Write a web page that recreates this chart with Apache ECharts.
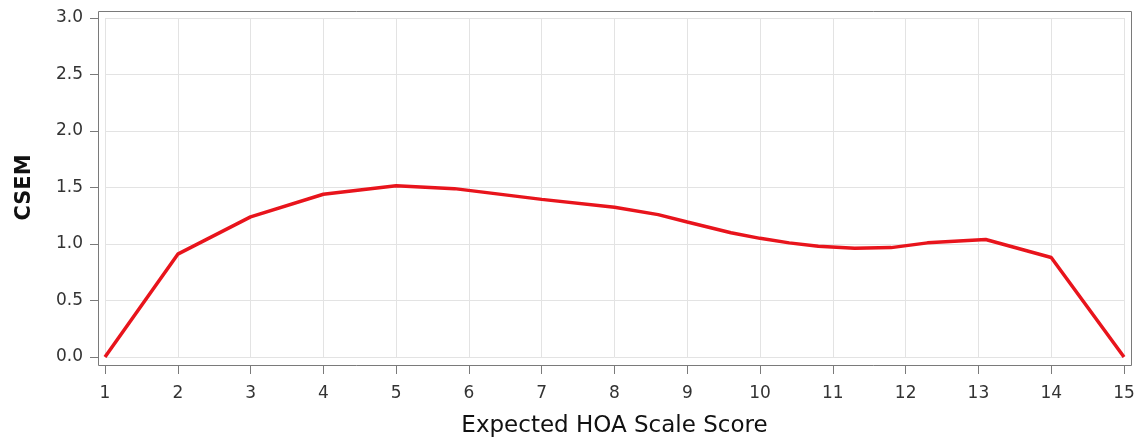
<!DOCTYPE html>
<html>
<head>
<meta charset="utf-8">
<script src="https://cdn.jsdelivr.net/npm/echarts@6/dist/echarts.min.js"></script>
<style>html,body{margin:0;padding:0;background:#fff;}#c{width:1141px;height:443px;}</style>
</head>
<body>
<div id="c"></div>
<script>
// Data
const scoreX = [1, 2, 3, 4, 5, 5.8, 7, 8, 8.6, 9, 9.6, 10, 10.4, 10.8, 11.3, 11.8, 12.3, 13.1, 14, 15];
const csemY  = [0.0, 0.91, 1.24, 1.44, 1.515, 1.49, 1.395, 1.325, 1.26, 1.195, 1.10, 1.05, 1.01, 0.98, 0.962, 0.968, 1.01, 1.04, 0.88, 0.0];
const xTicks = [1,2,3,4,5,6,7,8,9,10,11,12,13,14,15];
const yTicks = [0, 0.5, 1.0, 1.5, 2.0, 2.5, 3.0];

const chart = echarts.init(document.getElementById('c'), null, {renderer: 'canvas'});
const font = 'DejaVu Sans, Verdana, sans-serif';
const points = scoreX.map((x, i) => [x, csemY[i]]);

chart.setOption({
  animation: false,
  backgroundColor: '#ffffff',
  grid: [
    {left: 98.5, right: 9.5, top: 11.5, bottom: 77.5, show: true, borderColor: '#7a7a7a', borderWidth: 1, backgroundColor: 'transparent'},
    {left: 105, right: 17, top: 18, bottom: 86, show: false}
  ],
  xAxis: [
    {gridIndex: 0, type: 'value', min: 0, max: 1, show: false},
    {gridIndex: 1, type: 'value', min: xTicks[0], max: xTicks[xTicks.length-1], interval: 1,
     offset: 8,
     name: 'Expected HOA Scale Score', nameLocation: 'middle', nameGap: 50,
     nameTextStyle: {fontFamily: font, fontSize: 23, color: '#111'},
     axisLine: {show: false, onZero: false},
     axisTick: {show: true, length: 9, lineStyle: {color: '#7a7a7a'}},
     axisLabel: {fontFamily: font, fontSize: 17, color: '#333', margin: 20},
     splitLine: {show: true, lineStyle: {color: '#e3e3e3', width: 1}}
    }
  ],
  yAxis: [
    {gridIndex: 0, type: 'value', min: 0, max: 1, show: false},
    {gridIndex: 1, type: 'value', min: yTicks[0], max: yTicks[yTicks.length-1], interval: 0.5,
     offset: 6,
     name: 'CSEM', nameLocation: 'middle', nameGap: 64, nameRotate: 90,
     nameTextStyle: {fontFamily: font, fontSize: 21, fontWeight: 'bold', color: '#111'},
     axisLine: {show: false, onZero: false},
     axisTick: {show: true, length: 9, lineStyle: {color: '#7a7a7a'}},
     axisLabel: {fontFamily: font, fontSize: 17, color: '#333', margin: 16,
                 formatter: v => v.toFixed(1)},
     splitLine: {show: true, lineStyle: {color: '#e3e3e3', width: 1}}
    }
  ],
  series: [{
    type: 'line',
    xAxisIndex: 1, yAxisIndex: 1,
    data: points,
    showSymbol: false,
    smooth: false,
    lineStyle: {color: '#e8141c', width: 3.5},
    itemStyle: {color: '#e8141c'}
  }]
});
</script>
</body>
</html>
